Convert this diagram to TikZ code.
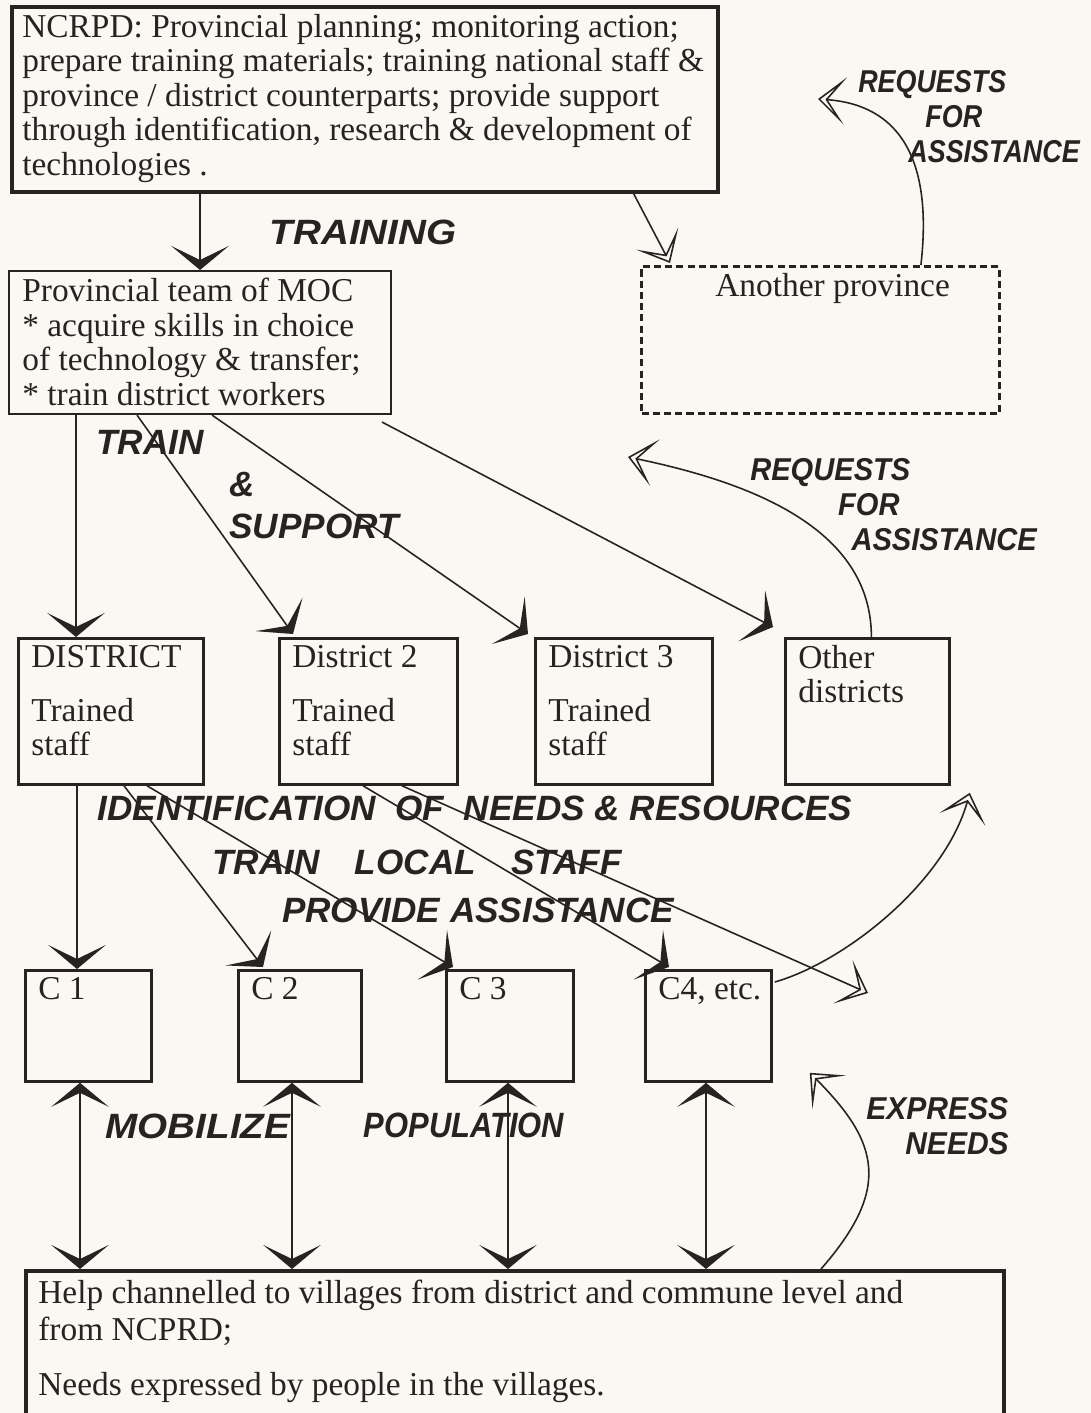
\documentclass[tikz,border=0pt]{standalone}
\usepackage{fontspec}
\setmainfont{Liberation Serif}
\newfontfamily\handfont{Liberation Sans}
\usetikzlibrary{positioning, arrows.meta, calc}
\definecolor{paper}{RGB}{250,248,243}
\definecolor{ink}{RGB}{38,36,34}
\tikzset{
  boxline/.style={draw=ink, line width=1.6pt, inner sep=0pt, anchor=north west},
  bigbox/.style={boxline, line width=2.2pt},
  thinbox/.style={boxline, line width=1.2pt},
  dashbox/.style={boxline, line width=1.7pt, dash pattern=on 4pt off 2.4pt},
  txt/.style={font=\fontsize{19}{19.6}\selectfont, text=ink, align=left, inner sep=0pt},
  hand/.style={font=\handfont\bfseries\itshape\fontsize{20}{22}\selectfont, text=ink, align=left, inner sep=0pt},
  stack/.style={hand, font=\handfont\bfseries\itshape\fontsize{18}{20}\selectfont},
  link/.style={draw=ink, line width=0.9pt},
  arr/.style={link, -{Stealth[length=0.48cm, width=1.15cm, inset=0.28cm, line width=2.2pt]}},
  dblarr/.style={link, {Stealth[length=0.48cm, width=1.15cm, inset=0.28cm, line width=2.2pt]}-{Stealth[length=0.48cm, width=1.15cm, inset=0.28cm, line width=2.2pt]}},
  openarr/.style={link, -{Stealth[open, length=0.55cm, width=0.95cm, inset=0.36cm]}},
}

\begin{document}
\begin{tikzpicture}[x=0.02cm, y=-0.02cm]
  \fill[paper, use as bounding box] (0,0) rectangle (1091,1413);
  \clip (0,0) rectangle (1091,1413);

  % boxes
  \node[bigbox, minimum width=14.12cm, minimum height=3.7cm] (ncrpd) at (10,5) {};
  \node[txt, below right=0.18cm and 0.24cm of ncrpd.north west] (ncrpdtxt)
    {NCRPD: Provincial planning; monitoring action;\\prepare training materials; training national staff \&\\province / district counterparts; provide support\\through identification, research \& development of\\technologies .};
  \node[thinbox, minimum width=7.64cm, minimum height=2.86cm] (moc) at (8,270) {};
  \node[txt, below right=0.16cm and 0.28cm of moc.north west] (moctxt)
    {Provincial team of MOC\\* acquire skills in choice\\of technology \& transfer;\\* train district workers};
  \node[dashbox, minimum width=7.16cm, minimum height=2.94cm] (other) at (640,265) {};
  \node[txt, below right=0.16cm and 1.5cm of other.north west] (othertxt) {Another province};

  \node[boxline, minimum width=3.7cm, minimum height=2.92cm] (d1) at (17,637) {};
  \node[boxline, minimum width=3.56cm, minimum height=2.92cm] (d2) at (278,637) {};
  \node[boxline, minimum width=3.54cm, minimum height=2.92cm] (d3) at (534,637) {};
  \node[boxline, minimum width=3.28cm, minimum height=2.92cm] (d4) at (784,637) {};
  \node[txt, below right=0.16cm and 0.28cm of d1.north west] (d1txt) {DISTRICT\\[11pt]Trained\\staff};
  \node[txt, below right=0.16cm and 0.28cm of d2.north west] (d2txt) {District 2\\[11pt]Trained\\staff};
  \node[txt, below right=0.16cm and 0.28cm of d3.north west] (d3txt) {District 3\\[11pt]Trained\\staff};
  \node[txt, below right=0.16cm and 0.28cm of d4.north west] (d4txt) {Other\\districts};

  \node[boxline, minimum width=2.52cm, minimum height=2.22cm] (c1) at (24,969) {};
  \node[boxline, minimum width=2.46cm, minimum height=2.22cm] (c2) at (237,969) {};
  \node[boxline, minimum width=2.54cm, minimum height=2.22cm] (c3) at (445,969) {};
  \node[boxline, minimum width=2.52cm, minimum height=2.22cm] (c4) at (644,969) {};
  \node[txt, below right=0.16cm and 0.28cm of c1.north west] (c1txt) {C 1};
  \node[txt, below right=0.16cm and 0.28cm of c2.north west] (c2txt) {C 2};
  \node[txt, below right=0.16cm and 0.28cm of c3.north west] (c3txt) {C 3};
  \node[txt, below right=0.16cm and 0.28cm of c4.north west] (c4txt) {C4, etc.};

  \node[bigbox, minimum width=19.56cm, minimum height=3.2cm] (vil) at (24,1269) {};
  \node[txt, below right=0.22cm and 0.28cm of vil.north west] (viltxt)
    {Help channelled to villages from district and commune level and\\[1pt]from NCPRD;\\[12pt]Needs expressed by people in the villages.};

  % free ends
  \coordinate (reqA) at (818,99);
  \coordinate (reqB) at (628,457);
  \coordinate (stray) at (868,993);

  % connectors
  \draw[arr] (ncrpd.south -| moc.north) -- (moc.north);
  \draw[openarr] ($(ncrpd.south east)+(-86,0)$) -- ($(other.north west)+(30,-2)$);
  \draw[openarr] ($(other.north east)+(-80,0)$) .. controls +(12,-105) and +(82,6) .. (reqA);

  \draw[arr] ($(moc.south west)+(68,0)$) -- ($(d1.north west)+(59,0)$);
  \draw[arr] ($(moc.south west)+(129,0)$) -- ($(d2.north west)+(15,-3)$);
  \draw[arr] ($(moc.south west)+(204,0)$) -- ($(d3.north west)+(-6,-3)$);
  \draw[arr] ($(moc.south east)+(-10,7)$) -- ($(d4.north west)+(-11,-10)$);
  \draw[openarr] ($(d4.north)+(4,0)$) .. controls +(0,-110) and +(120,25) .. (reqB);

  \draw[arr] ($(d1.south west)+(60,0)$) -- ($(c1.north west)+(53,0)$);
  \draw[arr] ($(d1.south west)+(107,0)$) -- ($(c2.north west)+(26,-2)$);
  \draw[arr] ($(d1.south west)+(130,0)$) -- ($(c3.north west)+(8,-2)$);
  \draw[arr] ($(d2.south west)+(85,0)$) -- ($(c4.north west)+(25,-2)$);
  \draw[openarr] ($(d2.south west)+(124,0)$) -- (stray);
  \draw[openarr] ($(c4.north east)+(2,13)$) .. controls +(70,-20) and +(-25,90) .. ($(d4.south east)+(19,7)$);

  \draw[dblarr] ($(c1.south west)+(56,0)$) -- ($(vil.north west)+(56,0)$);
  \draw[dblarr] ($(c2.south west)+(55,0)$) -- ($(vil.north west)+(268,0)$);
  \draw[dblarr] ($(c3.south west)+(63,0)$) -- ($(vil.north west)+(484,0)$);
  \draw[dblarr] ($(c4.south west)+(62,0)$) -- ($(vil.north west)+(682,0)$);
  \draw[openarr] ($(vil.north west)+(797,0)$) .. controls +(70,-80) and +(70,70) .. ($(c4.south east)+(37,-10)$);

  % handwritten labels
  \node[hand, xscale=1.1] (training) at (363,232) {TRAINING};
  \node[stack, anchor=north west, xscale=0.85] (reqonelab) at (858,70)
    {REQUESTS\\\hspace{1.58cm}FOR\\\hspace{1.18cm}ASSISTANCE};
  \node[hand, anchor=north west] (trainlab) at (96,430)
    {TRAIN\\[2pt]\hspace{2.66cm}\&\\[2pt]\hspace{2.66cm}SUPPORT};
  \node[stack, anchor=north west, xscale=0.92] (reqtwolab) at (750,458)
    {REQUESTS\\\hspace{1.91cm}FOR\\\hspace{2.2cm}ASSISTANCE};
  \node[hand] (identlab) at (475,808) {IDENTIFICATION\ \ OF\ \ NEEDS \& RESOURCES};
  \node[hand] (locallab) at (417,862) {TRAIN\quad LOCAL\quad STAFF};
  \node[hand] (assistlab) at (478,910) {PROVIDE ASSISTANCE};
  \node[hand, xscale=1.1] (mobilab) at (198,1126) {MOBILIZE};
  \node[hand, xscale=0.88] (poplab) at (464,1125) {POPULATION};
  \node[stack, anchor=north west, xscale=0.95] (expresslab) at (866,1097)
    {EXPRESS\\\hspace{0.82cm}NEEDS};
\end{tikzpicture}
\end{document}
